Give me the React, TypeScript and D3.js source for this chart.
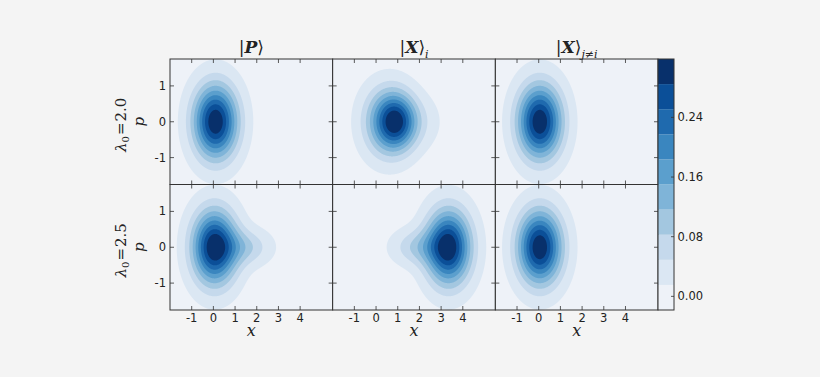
import React, { useMemo } from "react";
import * as d3 from "d3";

// ---------- data ----------
const columnKeys = ["P", "Xi", "Xj"];
const rowLambdas = ["2.0", "2.5"];
const xTicks = [-1, 0, 1, 2, 3, 4];
const pTicks = [-1, 0, 1];
const cbTicks = [0.0, 0.08, 0.16, 0.24];
const cbTickLabels = ["0.00", "0.08", "0.16", "0.24"];
const xDomain = [-2, 5.5];
const pDomain = [-1.75, 1.75];
const levelMin = -0.0183;
const levelMax = 0.3183;
const levelCount = 10;

// Gaussian components of each Wigner-like distribution: [amplitude, x0, p0, sx, sp]
const topP = [[0.318, 0.1, 0, 0.707, 0.707]];
const topXi = [
  [0.17, 0.5, 0, 0.75, 0.65],
  [0.17, 1.0, 0, 0.6, 0.52],
  [0.035, 1.9, 0, 0.75, 0.5],
];
const topXj = [[0.318, 0.05, 0, 0.707, 0.707]];
const botP = [
  [0.318, 0.05, 0, 0.707, 0.707],
  [0.075, 1.5, 0, 0.78, 0.34],
];
const botXi = [
  [0.318, 3.34, 0, 0.707, 0.707],
  [0.075, 1.88, 0, 0.78, 0.34],
];
const botXj = [[0.318, 0.05, 0, 0.707, 0.707]];

const panelComponents = [
  [topP, topXi, topXj],
  [botP, botXi, botXj],
];

// ---------- style ----------
const bandColors = [
  "#eef2f8",
  "#dbe7f3",
  "#c5d9ec",
  "#a3c7e0",
  "#7fb4d8",
  "#5b9fcd",
  "#3a86bf",
  "#1f6aae",
  "#0b4f98",
  "#08306b",
];
const W = 820;
const H = 377;
const left = 170;
const top = 59;
const panelW = 162.67;
const panelH = 125.5;
const cbW = 16;
const axisColor = "#333";
const tickFont = "DejaVu Sans, sans-serif";
const mathFont = "DejaVu Serif, DejaVu Sans, serif";

function Title({ k, x }: { k: string; x: number }) {
  const y = 53;
  if (k === "P")
    return (
      <text x={x} y={y} textAnchor="middle" fontSize={17} fontFamily={mathFont} fill="#222">
        <tspan>|</tspan>
        <tspan fontStyle="italic" fontWeight="bold">P</tspan>
        <tspan>⟩</tspan>
      </text>
    );
  const sub = k === "Xi" ? "i" : "j≠i";
  return (
    <text x={x} y={y} textAnchor="middle" fontSize={17} fontFamily={mathFont} fill="#222">
      <tspan>|</tspan>
      <tspan fontStyle="italic" fontWeight="bold">X</tspan>
      <tspan>⟩</tspan>
      <tspan dy={5} fontSize={11} fontStyle="italic">
        {sub}
      </tspan>
    </text>
  );
}

export default function App() {
  const x = d3.scaleLinear().domain(xDomain);
  const p = d3.scaleLinear().domain(pDomain);
  const levels = d3.range(levelCount + 1).map((i) => levelMin + ((levelMax - levelMin) * i) / levelCount);
  const cb = d3.scaleLinear().domain([levelMin, levelMax]).range([top + 2 * panelH, top]);

  const panels = useMemo(() => {
    const nx = 326;
    const ny = 251;
    const out: any[] = [];
    panelComponents.forEach((row, r) => {
      row.forEach((comps, c) => {
        const vals = new Array(nx * ny);
        for (let j = 0; j < ny; j++) {
          const pv = pDomain[1] - ((j + 0.5) / ny) * (pDomain[1] - pDomain[0]);
          for (let i = 0; i < nx; i++) {
            const xv = xDomain[0] + ((i + 0.5) / nx) * (xDomain[1] - xDomain[0]);
            let s = 0;
            for (const [a, x0, p0, sx, sp] of comps) {
              s += a * Math.exp(-((xv - x0) ** 2) / (2 * sx * sx) - ((pv - p0) ** 2) / (2 * sp * sp));
            }
            vals[j * nx + i] = s;
          }
        }
        const cs = d3.contours().size([nx, ny]).thresholds(levels.slice(1, levelCount))(vals);
        const px0 = left + c * panelW;
        const py0 = top + r * panelH;
        const proj = d3.geoTransform({
          point(gx: number, gy: number) {
            (this as any).stream.point(px0 + (gx / nx) * panelW, py0 + (gy / ny) * panelH);
          },
        });
        const path = d3.geoPath(proj);
        out.push({ r, c, px0, py0, paths: cs.map((ct, k) => ({ d: path(ct as any), color: bandColors[k + 1] })) });
      });
    });
    return out;
  }, []);

  return (
    <svg width={W} height={H} style={{ position: "absolute", left: 0, top: 0 }}>
      <rect width={W} height={H} fill="#f4f4f4" />
      <defs>
        {panels.map((pn) => (
          <clipPath id={`clip-${pn.r}-${pn.c}`} key={`${pn.r}-${pn.c}`}>
            <rect x={pn.px0} y={pn.py0} width={panelW} height={panelH} />
          </clipPath>
        ))}
      </defs>
      {panels.map((pn) => {
        const xs = x.copy().range([pn.px0, pn.px0 + panelW]);
        const ps = p.copy().range([pn.py0 + panelH, pn.py0]);
        return (
          <g key={`${pn.r}-${pn.c}`}>
            <g clipPath={`url(#clip-${pn.r}-${pn.c})`}>
              <rect x={pn.px0} y={pn.py0} width={panelW} height={panelH} fill={bandColors[0]} />
              {pn.paths.map((pp: any, k: number) => (
                <path key={k} d={pp.d} fill={pp.color} />
              ))}
            </g>
            {xTicks.map((t) => (
              <g key={`xt${t}`}>
                <line x1={xs(t)} x2={xs(t)} y1={pn.py0 + panelH} y2={pn.py0 + panelH - 4} stroke={axisColor} strokeWidth={0.8} />
                <line x1={xs(t)} x2={xs(t)} y1={pn.py0} y2={pn.py0 + 4} stroke={axisColor} strokeWidth={0.8} />
              </g>
            ))}
            {pTicks.map((t) => (
              <g key={`pt${t}`}>
                <line x1={pn.px0} x2={pn.px0 + 4} y1={ps(t)} y2={ps(t)} stroke={axisColor} strokeWidth={0.8} />
                <line x1={pn.px0 + panelW} x2={pn.px0 + panelW - 4} y1={ps(t)} y2={ps(t)} stroke={axisColor} strokeWidth={0.8} />
              </g>
            ))}
            <rect x={pn.px0} y={pn.py0} width={panelW} height={panelH} fill="none" stroke={axisColor} strokeWidth={1} />
            {pn.r === 1 &&
              xTicks.map((t) => (
                <text key={`xl${t}`} x={xs(t)} y={321.5} textAnchor="middle" fontSize={11.5} fontFamily={tickFont} fill="#222">
                  {t}
                </text>
              ))}
            {pn.r === 1 && (
              <text x={pn.px0 + panelW / 2} y={336} textAnchor="middle" fontSize={16} fontStyle="italic" fontFamily={mathFont} fill="#222">
                x
              </text>
            )}
            {pn.c === 0 &&
              pTicks.map((t) => (
                <text key={`pl${t}`} x={166} y={ps(t)} dy="0.35em" textAnchor="end" fontSize={11.5} fontFamily={tickFont} fill="#222">
                  {t}
                </text>
              ))}
            {pn.c === 0 && (
              <g>
                <text transform={`translate(143.5,${pn.py0 + panelH / 2}) rotate(-90)`} textAnchor="middle" fontSize={15} fontStyle="italic" fontFamily={mathFont} fill="#222">
                  p
                </text>
                <text transform={`translate(126,${pn.py0 + panelH / 2 + 3}) rotate(-90)`} textAnchor="middle" fontSize={15} fontFamily={mathFont} fill="#222">
                  <tspan fontStyle="italic">λ</tspan>
                  <tspan dy={3} fontSize={10}>0</tspan>
                  <tspan dy={-3} dx={1}>=</tspan>
                  <tspan dx={1}>{rowLambdas[pn.r]}</tspan>
                </text>
              </g>
            )}
          </g>
        );
      })}
      {columnKeys.map((k, c) => (
        <Title key={k} k={k} x={left + c * panelW + panelW / 2} />
      ))}
      {/* colorbar */}
      <g>
        {d3.range(levelCount).map((i) => (
          <rect
            key={i}
            x={left + 3 * panelW}
            y={cb(levels[i + 1])}
            width={cbW}
            height={cb(levels[i]) - cb(levels[i + 1])}
            fill={bandColors[i]}
          />
        ))}
        <rect x={left + 3 * panelW} y={top} width={cbW} height={2 * panelH} fill="none" stroke={axisColor} strokeWidth={1} />
        {cbTicks.map((t, i) => (
          <g key={i}>
            <line x1={left + 3 * panelW + cbW} x2={left + 3 * panelW + cbW - 3} y1={cb(t)} y2={cb(t)} stroke={axisColor} strokeWidth={0.8} />
            <text x={677.5} y={cb(t)} dy="0.35em" fontSize={11.5} fontFamily={tickFont} fill="#222">
              {cbTickLabels[i]}
            </text>
          </g>
        ))}
      </g>
    </svg>
  );
}
